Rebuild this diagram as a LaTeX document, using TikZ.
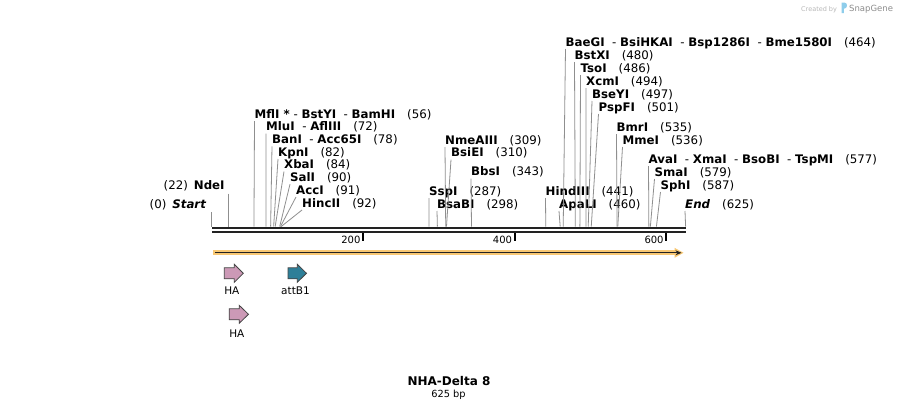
\documentclass[tikz,border=0pt]{standalone}
\usepackage{fontspec}
\setmainfont{DejaVu Sans}
\usetikzlibrary{arrows.meta}
\definecolor{siteg}{HTML}{8F8F8F}
\definecolor{bb}{HTML}{222222}
\definecolor{orglow}{HTML}{F8C874}
\definecolor{hapink}{HTML}{CC99B6}
\definecolor{attteal}{HTML}{2E7F98}
\definecolor{featline}{HTML}{444444}
\definecolor{logoblue}{HTML}{8ECDEB}
\newcommand\gp{\hspace{12pt}}
\newcommand\dsh{\ \ - }
\newcommand\rs[5]{%
  \node[lab] (#1) at (#2,#3) {#4};
  \coordinate (#1s) at ({211.5+0.758*#5},226.5);
  \draw[siteline] ([yshift=-3pt]#1.base west) -- (#1s);}
\newcommand\feat[5]{% id, x0, xh, xt, yc
  \filldraw[#1] (#2,#5-5.5) -- (#3,#5-5.5) -- (#3,#5-9) -- (#4,#5) -- (#3,#5+9) -- (#3,#5+5.5) -- (#2,#5+5.5) -- cycle;}
\begin{document}
\begin{tikzpicture}[x=1pt,y=-1pt,
  lab/.style={inner sep=0pt, font=\fontsize{11.8}{13}\selectfont, anchor=base west},
  siteline/.style={draw=siteg, line width=0.8pt},
  hafeat/.style={fill=hapink, draw=featline, line width=0.8pt, line join=miter},
  attfeat/.style={fill=attteal, draw=featline, line width=0.8pt, line join=miter},
  flab/.style={inner sep=0pt, font=\fontsize{10.5}{12}\selectfont, anchor=base}]
\useasboundingbox (0,0) rectangle (898,410);
\fill[white] (0,0) rectangle (898,410);

% watermark
\node[inner sep=0pt, anchor=base west, font=\fontsize{6.5}{7}\selectfont, text=black!28] (created) at (801,11) {Created by};
\fill[logoblue] (841.5,13) -- (841.5,2.5) -- (844.5,2.5) .. controls (847.8,2.5) and (847.8,8.5) .. (844.5,8.5) -- (843.8,8.5) -- (843.8,13) -- cycle;
\node[inner sep=0pt, anchor=base west, font=\fontsize{8.5}{9}\selectfont, text=black!45] (snapgene) at (849,11) {SnapGene};

% backbone
\coordinate (bbl) at (212.3,0);
\coordinate (bbr) at (685.6,0);
\draw[bb, line width=2.6pt] (bbl |- 0,228) -- (bbr |- 0,228);
\draw[bb, line width=2.3pt] (bbl |- 0,232.2) -- (bbr |- 0,232.2);

% ticks
\foreach \v in {200,400,600}{
  \coordinate (t\v) at ({211.5+0.758*\v},233.2);
  \draw[black, line width=2pt] (t\v) -- ++(0,7.5);
  \node[inner sep=0pt, anchor=base east, font=\fontsize{10}{12}\selectfont] (tl\v) at ([xshift=-2.5pt,yshift=-10.5pt]t\v) {\v};
}

% left-side labels
\node[lab, anchor=base east] (Start) at (206.5,208) {(0)\hspace{6pt}\textbf{\textit{Start}}};
\coordinate (Starts) at (211.8,226.5);
\draw[siteline] ([yshift=-4pt]Starts |- Start.base) -- (Starts);
\node[lab, anchor=base east] (NdeI) at (224.8,189.5) {(22)\hspace{6pt}\textbf{NdeI}};
\coordinate (NdeIs) at (228.7,226.5);
\draw[siteline] ([yshift=-4pt]NdeIs |- NdeI.base) -- (NdeIs);

% right-side labels
\rs{MflI}{254.5}{118}{\textbf{MflI *} - \textbf{BstYI}\dsh\textbf{BamHI}\gp(56)}{56}
\rs{MluI}{266}{130.7}{\textbf{MluI}\dsh\textbf{AflIII}\gp(72)}{72}
\rs{BanI}{272}{143.3}{\textbf{BanI}\dsh\textbf{Acc65I}\gp(78)}{78}
\rs{KpnI}{278}{156}{\textbf{KpnI}\gp(82)}{82}
\rs{XbaI}{284}{168.5}{\textbf{XbaI}\gp(84)}{84}
\rs{SalI}{290}{181.2}{\textbf{SalI}\gp(90)}{90}
\rs{AccI}{296}{194}{\textbf{AccI}\gp(91)}{91}
\rs{HincII}{302}{207}{\textbf{HincII}\gp(92)}{92}
\rs{SspI}{429}{195}{\textbf{SspI}\gp(287)}{287}
\rs{BsaBI}{437}{208}{\textbf{BsaBI}\gp(298)}{298}
\rs{NmeAIII}{445}{144}{\textbf{NmeAIII}\gp(309)}{309}
\rs{BsiEI}{451}{156.7}{\textbf{BsiEI}\gp(310)}{310}
\rs{BbsI}{471}{175.7}{\textbf{BbsI}\gp(343)}{343}
\rs{HindIII}{545.5}{195}{\textbf{HindIII}\gp(441)}{441}
\rs{ApaLI}{559}{208}{\textbf{ApaLI}\gp(460)}{460}
\rs{BaeGI}{565.5}{46}{\textbf{BaeGI}\dsh\textbf{BsiHKAI}\dsh\textbf{Bsp1286I}\dsh\textbf{Bme1580I}\gp(464)}{464}
\rs{BstXI}{574.5}{59}{\textbf{BstXI}\gp(480)}{480}
\rs{TsoI}{580.5}{72}{\textbf{TsoI}\gp(486)}{486}
\rs{XcmI}{586}{85}{\textbf{XcmI}\gp(494)}{494}
\rs{BseYI}{592}{98}{\textbf{BseYI}\gp(497)}{497}
\rs{PspFI}{598.5}{111}{\textbf{PspFI}\gp(501)}{501}
\rs{BmrI}{616.5}{131}{\textbf{BmrI}\gp(535)}{535}
\rs{MmeI}{622.5}{144}{\textbf{MmeI}\gp(536)}{536}
\rs{AvaI}{648.5}{163}{\textbf{AvaI}\dsh\textbf{XmaI}\dsh\textbf{BsoBI}\dsh\textbf{TspMI}\gp(577)}{577}
\rs{SmaI}{654.5}{176}{\textbf{SmaI}\gp(579)}{579}
\rs{SphI}{660.5}{189}{\textbf{SphI}\gp(587)}{587}
\rs{End}{685}{208}{\textbf{\textit{End}}\gp(625)}{625.5}

% orange ORF arrow
\coordinate (orfs) at (213,252.8);
\coordinate (orfe) at (681.5,252.8);
\draw[orglow, line width=5pt] (orfs) -- ([xshift=-5pt]orfe);
\fill[orglow] ([xshift=2pt]orfe) -- ++(-9,-5) -- ++(0,10) -- cycle;
\draw[bb, line width=0.9pt, -{Stealth[length=6pt,width=5pt]}] ([xshift=2pt]orfs) -- (orfe);

% features
\feat{hafeat}{224.3}{234.3}{243.3}{273.3}
\node[flab] (ha1) at (231.8,294) {HA};
\feat{attfeat}{288}{297.3}{306.5}{273.3}
\node[flab] (att) at (295.5,294) {attB1};
\feat{hafeat}{229.2}{239.2}{248.5}{314.3}
\node[flab] (ha2) at (236.8,337.3) {HA};

% title
\node[inner sep=0pt, anchor=base, font=\fontsize{12}{14}\selectfont\bfseries] (title) at (449,385) {NHA-Delta 8};
\node[inner sep=0pt, anchor=base, font=\fontsize{9.8}{12}\selectfont] (len) at (448.5,397.5) {625 bp};
\end{tikzpicture}
\end{document}
